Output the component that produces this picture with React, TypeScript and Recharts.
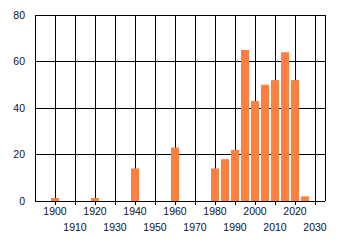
import React from "react";
import { BarChart, Bar, XAxis, YAxis, CartesianGrid, ReferenceLine } from "recharts";

const years = [1900, 1920, 1940, 1960, 1980, 1985, 1990, 1995, 2000, 2005, 2010, 2015, 2020, 2025];
const counts = [1.3, 1.3, 14, 23, 14, 18, 22, 65, 43, 50, 52, 64, 52, 2];
const xTicks = [1900, 1910, 1920, 1930, 1940, 1950, 1960, 1970, 1980, 1990, 2000, 2010, 2020, 2030];
const yTicks = [0, 20, 40, 60, 80];

const data = years.map((year, i) => ({ year, count: counts[i] }));

const font = "'Liberation Sans', Arial, sans-serif";

// every second label goes on a lower row
const StaggerTick = (props: any) => {
  const { x, y, payload, index } = props;
  const low = index % 2 === 1;
  return (
    <text x={x} y={y + (low ? 24 : 8)} textAnchor="middle" fontSize={10.5} fontFamily={font} fill="#10102a">
      {payload.value}
    </text>
  );
};

const App = () => {
  return (
    <div style={{ position: "absolute", left: 0, top: 0 }}>
      <BarChart width={340} height={245} data={data} margin={{ top: 15, right: 15, bottom: 4, left: 5 }}>
        <CartesianGrid stroke="#000" strokeWidth={1} shapeRendering="crispEdges" />
        <XAxis
          dataKey="year"
          type="number"
          domain={[1890, 2035]}
          ticks={xTicks}
          interval={0}
          height={40}
          axisLine={{ stroke: "#000", shapeRendering: "crispEdges" }}
          tickLine={{ stroke: "#000", shapeRendering: "crispEdges" }}
          tickSize={4}
          tick={<StaggerTick />}
        />
        <YAxis
          domain={[0, 80]}
          ticks={yTicks}
          width={30}
          axisLine={{ stroke: "#000", shapeRendering: "crispEdges" }}
          tickLine={false}
          tick={{ fontSize: 10.5, fontFamily: font, fill: "#10102a" }}
          tickMargin={4}
        />
        <ReferenceLine x={2035} stroke="#000" shapeRendering="crispEdges" />
        <Bar dataKey="count" fill="#ff7f40" barSize={8} isAnimationActive={false} />
      </BarChart>
    </div>
  );
};

export default App;
